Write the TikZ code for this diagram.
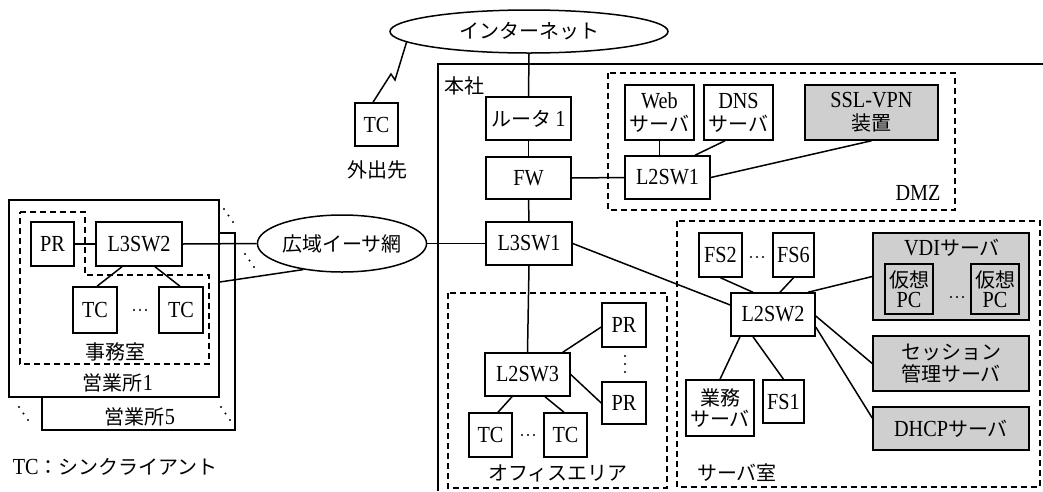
\documentclass[tikz,border=0pt]{standalone}
\usepackage{fontspec}
\setmainfont{Liberation Serif}[Scale=1.15, FakeStretch=0.88]
\newfontfamily\jp{Noto Sans CJK JP}
\newcommand\J[1]{{\jp #1}}
\usetikzlibrary{shapes.geometric}
\newcommand\mydd[2]{\fill (#1,#2) circle (1.2pt) (#1+4.5,#2+6.5) circle (1.2pt) (#1+9,#2+13) circle (1.2pt);}
\newcommand\hdots[2]{\fill (#1-6,#2) circle (1.2pt) (#1,#2) circle (1.2pt) (#1+6,#2) circle (1.2pt);}
\newcommand\vdotsat[2]{\fill (#1,#2-8) circle (1.2pt) (#1,#2) circle (1.2pt) (#1,#2+8) circle (1.2pt);}
\begin{document}
\begin{tikzpicture}[x=1pt,y=-1pt, line width=1.5pt,
 every node/.style={font=\fontsize{20}{21}\selectfont},
 sz/.style 2 args={minimum width=#1pt, minimum height=#2pt},
 box/.style={draw, fill=white, inner sep=0pt, align=center},
 shade/.style={box, fill=black!19},
 zone/.style={draw, dash pattern=on 6pt off 4pt},
 cloud/.style={draw, ellipse, fill=white, inner sep=0pt},
 lbl/.style={inner sep=0pt}]
\useasboundingbox (0,0) rectangle (1043,491);

% ---------- branch offices ----------
\draw (219,233) -- (235,233) -- (235,430) -- (42,430) -- (42,397);
\node[lbl] (e5lbl) at (140,417) {\J{営業所}5};
\node[draw, fill=white, inner sep=0pt, sz={210}{197}] (eig1) at (114,298.5) {};
\node[lbl] (e1lbl) at (118,383) {\J{営業所}1};
\draw[zone] (20,212) -- (85,212) -- (85,275) -- (209,275) -- (209,364) -- (20,364) -- cycle;
\node[lbl] (jimu) at (115,352) {\J{事務室}};
\mydd{224}{209}
\mydd{245}{254}
\mydd{19}{407}
\mydd{221}{407}

\node[box, sz={43}{44}] (pr0) at (52.5,244) {PR};
\node[box, sz={86}{44}] (l3sw2) at (139,244) {L3SW2};
\node[box, sz={44}{46}] (tca) at (95,310) {TC};
\node[box, sz={44}{46}] (tcb) at (181,310) {TC};
\hdots{140}{310}

\node[cloud, sz={150}{57}] (wan) at (342,243.5) {\J{広域イーサ網}};

\node[lbl, anchor=west] (legend) at (12,467) {TC\J{：シンクライアント}};

% ---------- internet / outside ----------
\node[cloud, sz={278}{43}] (inet) at (529,31.5) {\J{インターネット}};
\node[box, sz={43}{43}] (tcout) at (376.5,124.5) {TC};
\node[lbl] (gaishutsu) at (377,170) {\J{外出先}};

% ---------- head office ----------
\draw (438,491) -- (438,64) -- (1043,64);
\node[lbl, anchor=west] (honsha) at (444,86) {\J{本社}};

\draw[zone] (608,73) rectangle (955,210);
\node[lbl] (dmz) at (918,193) {DMZ};
\draw[zone] (677,221) rectangle (1040,487);
\node[lbl] (srvroom) at (737,473) {\J{サーバ室}};
\draw[zone] (448,293) rectangle (667,488);
\node[lbl] (office) at (558,473) {\J{オフィスエリア}};

\node[box, sz={85}{43}] (router) at (528.5,118.5) {\J{ルータ}\,1};
\node[box, sz={85}{42}] (fw) at (528.5,178) {FW};
\node[box, sz={86}{43}] (l3sw1) at (529,243.5) {L3SW1};

\node[box, sz={69}{55}] (web) at (659.5,112.5) {Web\\[2pt]\J{サーバ}};
\node[box, sz={69}{55}] (dns) at (738.5,112.5) {DNS\\[2pt]\J{サーバ}};
\node[shade, sz={133}{55}] (ssl) at (871.5,112.5) {SSL-VPN\\[2pt]\J{装置}};
\node[box, sz={85}{43}] (l2sw1) at (667.5,177.5) {L2SW1};

\node[box, sz={43}{44}] (fs2) at (720.5,255) {FS2};
\node[box, sz={41}{44}] (fs6) at (793.5,255) {FS6};
\hdots{757}{257}
\node[box, sz={84}{43}] (l2sw2) at (773,314.5) {L2SW2};
\node[shade, sz={156}{87}] (vdi) at (951,276.5) {};
\node[lbl] (vdilbl) at (952,248) {VDI\J{サーバ}};
\node[shade, sz={48}{50}] (vpc1) at (909,289) {\J{仮想}\\[-1pt]PC};
\node[shade, sz={48}{50}] (vpc2) at (995,289) {\J{仮想}\\[-1pt]PC};
\hdots{957}{297}
\node[shade, sz={156}{55}] (sess) at (951,363.5) {\J{セッション}\\[1pt]\J{管理サーバ}};
\node[shade, sz={156}{43}] (dhcp) at (951,428.5) {DHCP\J{サーバ}};
\node[box, sz={68}{56}] (gyomu) at (720,408) {\J{業務}\\[0pt]\J{サーバ}};
\node[box, sz={41}{43}] (fs1) at (783.5,401.5) {FS1};

\node[box, sz={44}{44}] (pr1) at (624,325) {PR};
\node[box, sz={44}{42}] (pr2) at (624,403) {PR};
\vdotsat{625}{364}
\node[box, sz={85}{43}] (l2sw3) at (527.5,374.5) {L2SW3};
\node[box, sz={43}{44}] (tc1) at (490.5,435) {TC};
\node[box, sz={43}{44}] (tc2) at (565.5,435) {TC};
\hdots{528}{435}

% ---------- connectors ----------
\draw (pr0.east) -- (l3sw2.west);
\draw (l3sw2.east) -- (wan.west);
\draw ([xshift=-17pt]l3sw2.south) -- ([xshift=2pt]tca.north);
\draw ([xshift=16pt]l3sw2.south) -- ([xshift=-1pt]tcb.north);
\draw ([yshift=16.5pt]eig1.east) -- (wan.214);
\draw (wan.east) -- (l3sw1.west);

\draw ([xshift=-3.5pt]tcout.north) -- (391,74) -- (395,80) -- (inet.185);

\draw (inet.south) -- (router.north);
\draw (router.south) -- (fw.north);
\draw (fw.south) -- (l3sw1.north);
\draw (fw.east) -- (l2sw1.west);
\draw (web.south) -- (web.south |- l2sw1.north);
\draw ([xshift=-13.5pt]dns.south) -- ([xshift=27.5pt]l2sw1.north);
\draw (ssl.south) -- (l2sw1.east);

\draw (l3sw1.east) -- ([yshift=9.5pt]l2sw2.west);
\draw (l3sw1.south) -- (l2sw3.north);
\draw ([xshift=-8pt]l2sw3.north east) -- ([yshift=-2pt]pr1.west);
\draw (l2sw3.east) -- (pr2.west);
\draw ([xshift=-15.5pt]l2sw3.south) -- ([xshift=7.5pt]tc1.north);
\draw ([xshift=17.5pt]l2sw3.south) -- ([xshift=-1.5pt]tc2.north);

\draw (fs2.south) -- ([xshift=-20pt]l2sw2.north);
\draw (fs6.south) -- ([xshift=7pt]l2sw2.north);
\draw (vdi.west) -- ([xshift=35pt]l2sw2.north);
\draw ([yshift=-1.5pt]l2sw2.east) -- (sess.west);
\draw ([yshift=-12.5pt]l2sw2.east) -- ([yshift=10.5pt]dhcp.west);
\draw ([xshift=-33pt]l2sw2.south) -- (gyomu.north);
\draw ([xshift=-20pt]l2sw2.south) -- (fs1.north);
\end{tikzpicture}
\end{document}
